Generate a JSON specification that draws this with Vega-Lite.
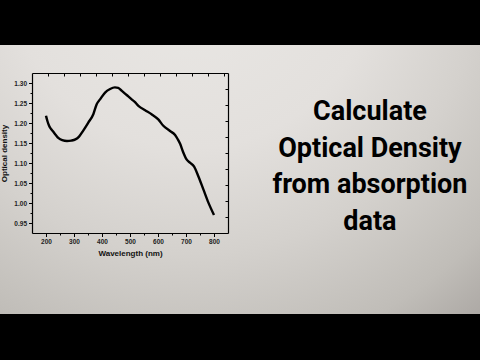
{
  "$schema": "https://vega.github.io/schema/vega-lite/v6.json",
  "width": 196,
  "height": 160,
  "autosize": {"type": "none"},
  "padding": {"left": 32, "top": 73, "right": 252, "bottom": 127},
  "background": "#000000",
  "config": {"view": {"stroke": null, "fill": null}},
  "resolve": {"axis": {"x": "independent", "y": "independent"}},
  "datasets": {
    "spectrum": [
      {"wavelength": 200, "od": 1.218},
      {"wavelength": 205, "od": 1.205},
      {"wavelength": 211, "od": 1.193},
      {"wavelength": 218, "od": 1.185},
      {"wavelength": 224, "od": 1.18},
      {"wavelength": 235, "od": 1.17},
      {"wavelength": 245, "od": 1.162},
      {"wavelength": 258, "od": 1.157},
      {"wavelength": 275, "od": 1.155},
      {"wavelength": 290, "od": 1.156},
      {"wavelength": 305, "od": 1.159},
      {"wavelength": 318, "od": 1.166},
      {"wavelength": 333, "od": 1.181},
      {"wavelength": 351, "od": 1.201},
      {"wavelength": 369, "od": 1.222},
      {"wavelength": 381, "od": 1.247},
      {"wavelength": 393, "od": 1.259},
      {"wavelength": 411, "od": 1.276},
      {"wavelength": 429, "od": 1.285},
      {"wavelength": 446, "od": 1.289},
      {"wavelength": 458, "od": 1.288},
      {"wavelength": 470, "od": 1.281},
      {"wavelength": 488, "od": 1.27},
      {"wavelength": 506, "od": 1.259},
      {"wavelength": 518, "od": 1.252},
      {"wavelength": 530, "od": 1.243},
      {"wavelength": 554, "od": 1.232},
      {"wavelength": 577, "od": 1.222},
      {"wavelength": 601, "od": 1.209},
      {"wavelength": 619, "od": 1.193},
      {"wavelength": 643, "od": 1.18},
      {"wavelength": 661, "od": 1.17},
      {"wavelength": 670, "od": 1.16},
      {"wavelength": 679, "od": 1.148},
      {"wavelength": 690, "od": 1.127},
      {"wavelength": 702, "od": 1.109},
      {"wavelength": 714, "od": 1.101},
      {"wavelength": 729, "od": 1.091},
      {"wavelength": 744, "od": 1.067},
      {"wavelength": 762, "od": 1.034},
      {"wavelength": 780, "od": 1.001},
      {"wavelength": 800, "od": 0.97}
    ]
  },
  "layer": [
    {
      "data": {"values": [{}]},
      "mark": {
        "type": "rect",
        "clip": false,
        "stroke": null,
        "fill": {
          "gradient": "radial",
          "x1": 0.4, "y1": 0.05, "r1": 0,
          "x2": 0.4, "y2": 0.05, "r2": 1.1,
          "stops": [
            {"offset": 0, "color": "#eae8e5"},
            {"offset": 0.35, "color": "#e3e0dd"},
            {"offset": 0.55, "color": "#d4d1cd"},
            {"offset": 0.75, "color": "#c0bdb8"},
            {"offset": 0.86, "color": "#ada9a5"},
            {"offset": 1, "color": "#928e8c"}
          ]
        }
      },
      "encoding": {
        "x": {"datum": 35.7, "type": "quantitative", "scale": {"domain": [150, 850], "nice": false, "zero": false}, "axis": null},
        "x2": {"datum": 1750},
        "y": {"datum": 1.395, "type": "quantitative", "scale": {"domain": [0.925, 1.325], "nice": false, "zero": false}, "axis": null},
        "y2": {"datum": 0.7225}
      }
    },
    {
      "data": {"values": [{"caption": "Calculate\nOptical Density\nfrom absorption\ndata"}]},
      "mark": {
        "type": "text",
        "clip": false,
        "lineBreak": "\n",
        "lineHeight": 36.7,
        "align": "center",
        "baseline": "middle",
        "font": "Roboto",
        "fontSize": 27,
        "fontWeight": "bold",
        "color": "#000000"
      },
      "encoding": {
        "text": {"field": "caption"},
        "x": {"datum": 1357, "type": "quantitative", "scale": {"domain": [150, 850], "nice": false, "zero": false}, "axis": null},
        "y": {"datum": 1.2275, "type": "quantitative", "scale": {"domain": [0.925, 1.325], "nice": false, "zero": false}, "axis": null}
      }
    },
    {
      "data": {"name": "spectrum"},
      "mark": {"type": "line", "color": "#000000", "strokeWidth": 2.4, "interpolate": "monotone"},
      "encoding": {
        "x": {
          "field": "wavelength", "type": "quantitative",
          "scale": {"domain": [150, 850], "nice": false, "zero": false},
          "axis": {
            "orient": "bottom",
            "values": [200, 250, 300, 350, 400, 450, 500, 550, 600, 650, 700, 750, 800],
            "labelExpr": "datum.value % 100 === 0 ? datum.label : ''",
            "format": "d",
            "tickSize": {"condition": {"test": "datum.value % 100 !== 0", "value": 2}, "value": 3.5},
            "grid": false,
            "domainColor": "#000000", "domainWidth": 1.2,
            "tickColor": "#000000", "tickWidth": 1,
            "labelFont": "Liberation Sans", "labelFontSize": 6.5, "labelFontWeight": "bold", "labelColor": "#222222", "labelPadding": 1.5,
            "title": "Wavelength (nm)",
            "titleFont": "Liberation Sans", "titleFontSize": 8, "titleFontWeight": "bold", "titleColor": "#111111", "titlePadding": 5,
            "zindex": 1
          }
        },
        "y": {
          "field": "od", "type": "quantitative",
          "scale": {"domain": [0.925, 1.325], "nice": false, "zero": false},
          "axis": {
            "orient": "left",
            "values": [0.95, 0.975, 1.0, 1.025, 1.05, 1.075, 1.1, 1.125, 1.15, 1.175, 1.2, 1.225, 1.25, 1.275, 1.3],
            "labelExpr": "round(datum.value * 40) % 2 === 0 ? format(datum.value, '.2f') : ''",
            "tickSize": {"condition": {"test": "round(datum.value * 40) % 2 === 1", "value": 2}, "value": 3.5},
            "grid": false,
            "domainColor": "#000000", "domainWidth": 1.2,
            "tickColor": "#000000", "tickWidth": 1,
            "labelFont": "Liberation Sans", "labelFontSize": 6.5, "labelFontWeight": "bold", "labelColor": "#222222", "labelPadding": 2,
            "title": "Optical density",
            "titleFont": "Liberation Sans", "titleFontSize": 8, "titleFontWeight": "bold", "titleColor": "#111111", "titlePadding": 5,
            "zindex": 1
          }
        }
      }
    },
    {
      "data": {"name": "spectrum"},
      "mark": {"type": "line", "strokeOpacity": 0},
      "encoding": {
        "x": {
          "field": "wavelength", "type": "quantitative",
          "scale": {"domain": [150, 850], "nice": false, "zero": false},
          "axis": {
            "orient": "top",
            "values": [208, 265, 322, 379, 436, 493, 550, 607, 664, 721, 778, 835],
            "labels": false, "title": null, "grid": false,
            "tickSize": -3,
            "domainColor": "#000000", "domainWidth": 1.2,
            "tickColor": "#000000", "tickWidth": 1,
            "zindex": 1
          }
        },
        "y": {
          "field": "od", "type": "quantitative",
          "scale": {"domain": [0.925, 1.325], "nice": false, "zero": false},
          "axis": {
            "orient": "right",
            "values": [0.965, 1.005, 1.045, 1.085, 1.125, 1.165, 1.205, 1.245, 1.285],
            "labels": false, "title": null, "grid": false,
            "tickSize": -3,
            "domainColor": "#000000", "domainWidth": 1.2,
            "tickColor": "#000000", "tickWidth": 1,
            "zindex": 1
          }
        }
      }
    }
  ]
}
